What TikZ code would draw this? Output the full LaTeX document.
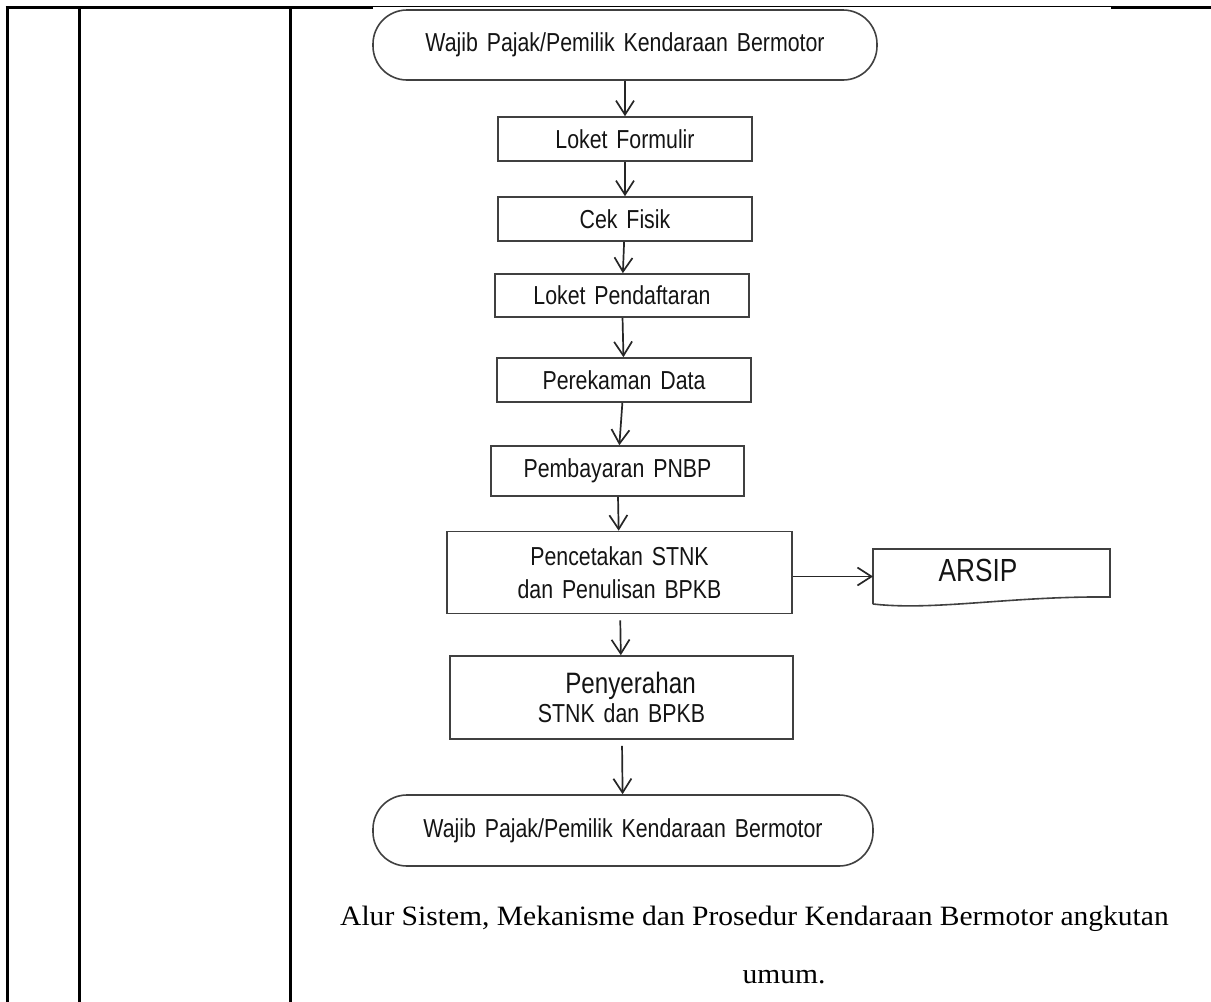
\documentclass[tikz,border=0pt]{standalone}
\usepackage{fontspec}
\newfontfamily\flowfont[FakeStretch=0.82,WordSpace=1.5]{Liberation Sans}
\newfontfamily\capfont[FakeStretch=1.055]{Liberation Serif}
\usetikzlibrary{arrows.meta,calc}

\begin{document}
\begin{tikzpicture}[x=1pt,y=-1pt,
  grid/.style={line width=3pt,black},
  seam/.style={line width=1.4pt,black},
  box/.style={draw=black!75,line width=1.6pt,rectangle,inner sep=0pt,align=center,
    text=black!92,font=\flowfont\fontsize{26}{33}\selectfont},
  term/.style={box,rounded corners=34pt},
  flow/.style={draw=black!85,line width=1.7pt,
    -{Straight Barb[length=14pt,width=18pt,line width=1.7pt]}},
  gap/.style={shorten <=6pt},
  caption/.style={font=\capfont\fontsize{28}{30}\selectfont,inner sep=0pt,text=black}]

\useasboundingbox (0,0) rectangle (1211,1002);

% table rules
\draw[grid] (5.5,7.5) -- (373,7.5);
\draw[seam] (373,6.7) -- (1111,6.7);
\draw[grid] (1111,7.5) -- (1211,7.5);
\draw[grid] (7.5,6) -- (7.5,1002);
\draw[grid] (79.3,6) -- (79.3,1002);
\draw[grid] (290.3,6) -- (290.3,1002);

% flow chart
\node[term,minimum width=504pt,minimum height=70pt] (t1) at (625,45)
  {Wajib Pajak/Pemilik Kendaraan Bermotor};
\node[box,minimum width=254pt,minimum height=44pt] (lf) at (625,139) {Loket Formulir};
\node[box,minimum width=254pt,minimum height=44pt] (cf) at (625,219) {Cek Fisik};
\node[box,minimum width=254pt,minimum height=43pt] (lp) at (622,295.5) {Loket Pendaftaran};
\node[box,minimum width=254pt,minimum height=44pt] (pd) at (624,380) {Perekaman Data};
\node[box,minimum width=253pt,minimum height=50pt] (pp) at (617.5,471) {Pembayaran PNBP};
\node[box,minimum width=345pt,minimum height=82pt] (pc) at (619.5,572.5)
  {Pencetakan STNK\\dan Penulisan BPKB};
\node[box,minimum width=343pt,minimum height=83pt,
  font=\flowfont\fontsize{26}{29}\selectfont] (py) at (621.5,697.5)
  {\hspace*{18pt}{\fontsize{29.5}{29}\selectfont Penyerahan}\\STNK dan BPKB};
\node[term,minimum width=500pt,minimum height=71pt] (t2) at (623,830.5)
  {Wajib Pajak/Pemilik Kendaraan Bermotor};

% document symbol for the archive
\coordinate (aNW) at (873,549);
\coordinate (aNE) at (1110,549);
\coordinate (aSE) at (1110,597);
\coordinate (aSW) at (873,604);
\draw[draw=black!75,line width=1.6pt]
  (aSW) -- (aNW) -- (aNE) -- (aSE)
  .. controls (1010,596) and (935,611) .. (aSW);
\node[inner sep=0pt,text=black!92,font=\flowfont\fontsize{32}{32}\selectfont]
  (arsip) at (978,570) {ARSIP};

% connectors
\draw[flow] (t1) -- (lf);
\draw[flow] (lf) -- (cf);
\draw[flow] (cf) -- (lp);
\draw[flow] (lp) -- (pd);
\draw[flow] (pd) -- (pp);
\draw[flow] (pp) -- (pc);
\draw[flow] ([yshift=-4pt]pc.east) -- ([yshift=-4pt]pc.east -| aNW);
\draw[flow,gap] (pc) -- (py);
\draw[flow,gap] (py) -- (t2);

% caption
\node[caption,anchor=base west] (cap1) at (340,925)
  {Alur Sistem, Mekanisme dan Prosedur Kendaraan Bermotor angkutan};
\node[caption,anchor=base] (cap2) at (784,983) {umum.};
\end{tikzpicture}
\end{document}
